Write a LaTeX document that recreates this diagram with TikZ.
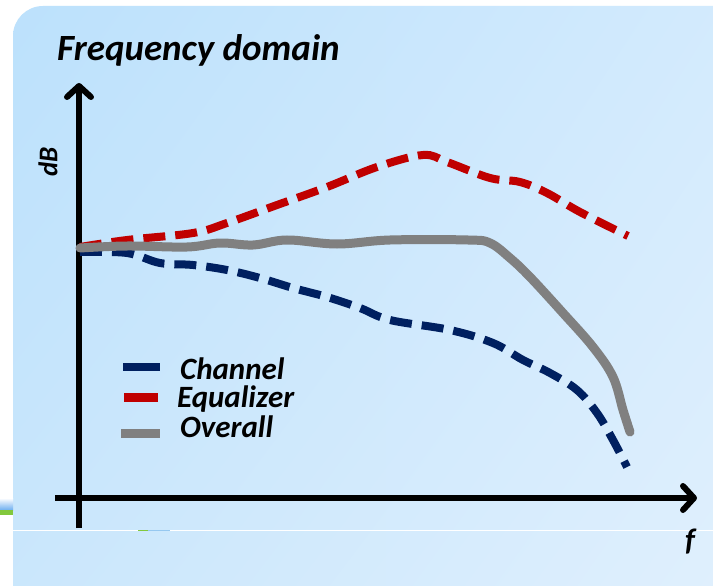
\documentclass[tikz,border=0pt]{standalone}
\usepackage{fontspec}
\setmainfont{Carlito}
\usetikzlibrary{arrows.meta,shadings}
\definecolor{bgUL}{RGB}{188,225,252}
\definecolor{bgUR}{RGB}{212,235,253}
\definecolor{bgLL}{RGB}{203,231,252}
\definecolor{bgLR}{RGB}{225,240,253}
\definecolor{chan}{RGB}{0,32,96}
\definecolor{equa}{RGB}{192,0,0}
\definecolor{over}{RGB}{128,128,128}
\definecolor{fragblue}{RGB}{110,175,240}
\definecolor{fraglight}{RGB}{150,200,240}
\definecolor{fraggreen}{RGB}{130,200,60}
\tikzset{
  axisline/.style={line width=6pt,-{Straight Barb[length=11pt,width=24pt,round]}},
  curvedash/.style={line width=8pt,dash pattern=on 22pt off 10pt},
  lbl/.style={font=\fontsize{31}{31}\selectfont\bfseries\itshape,inner sep=0pt},
}
\begin{document}
\begin{tikzpicture}[x=1pt,y=-1pt]
\useasboundingbox (0,0) rectangle (713,586);
\fill[white] (0,0) rectangle (713,586);
% background panel
\shade[rounded corners=30pt,upper left=bgUL,upper right=bgUR,lower left=bgLL,lower right=bgLR]
  (13,620) -- (13,6) -- (760,6) -- (760,620) -- cycle;
% left fragments
\shade[top color=white,bottom color=fragblue] (0,498) rectangle (13,510);
\fill[fraggreen] (0,510) rectangle (13,515);
\draw[white,line width=1pt] (13,530) -- (713,530);
\fill[fraggreen] (138,529.5) rectangle (148,531);
\fill[fraglight] (148,529.5) rectangle (170,531);

% title
\node[lbl,font=\fontsize{37}{37}\selectfont\bfseries\itshape,anchor=base west] (title) at (57,61) {Frequency domain};

% axes
\coordinate (yb) at (79,528);
\coordinate (yt) at (79,83);
\coordinate (xl) at (55,498);
\coordinate (xr) at (697,498);
\draw[axisline] (yb) -- (yt);
\draw[axisline] (xl) -- (xr);
\node[lbl,font=\fontsize{27}{27}\selectfont\bfseries\itshape,rotate=90] (db) at (48,162) {dB};
\node[lbl,anchor=base] (f) at (690,550) {f};

% curves
\draw[curvedash,equa] plot[smooth,tension=0.6] coordinates {(80,247) (127,240) (193,233) (227,223) (277,205) (327,187) (377,167) (423,155) (447,162) (490,178) (520,182) (547,193) (580,212) (628,236)};
\draw[curvedash,chan] plot[smooth,tension=0.6] coordinates {(80,252) (127,253) (160,263) (193,265) (227,270) (260,278) (293,288) (327,297) (360,308) (390,320) (450,330) (493,343) (523,360) (550,373) (577,390) (597,413) (613,440) (627,467)};
\draw[over,line width=9pt,line cap=round] plot[smooth,tension=0.6] coordinates {(80,248) (127,246) (187,247) (220,243) (253,245) (287,240) (337,244) (390,240) (468,240) (490,243) (510,258) (530,277) (563,313) (593,347) (613,377) (623,410) (630,432)};

% legend
\draw[chan,line width=8pt] (123,367) -- (160,367);
\draw[equa,line width=9pt] (124,397) -- (158,397);
\draw[over,line width=9pt] (121,433) -- (160,433);
\node[lbl,anchor=base west] (l1) at (180,379) {Channel};
\node[lbl,anchor=base west] (l2) at (177,407) {Equalizer};
\node[lbl,anchor=base west] (l3) at (180,437) {Overall};
\end{tikzpicture}
\end{document}
